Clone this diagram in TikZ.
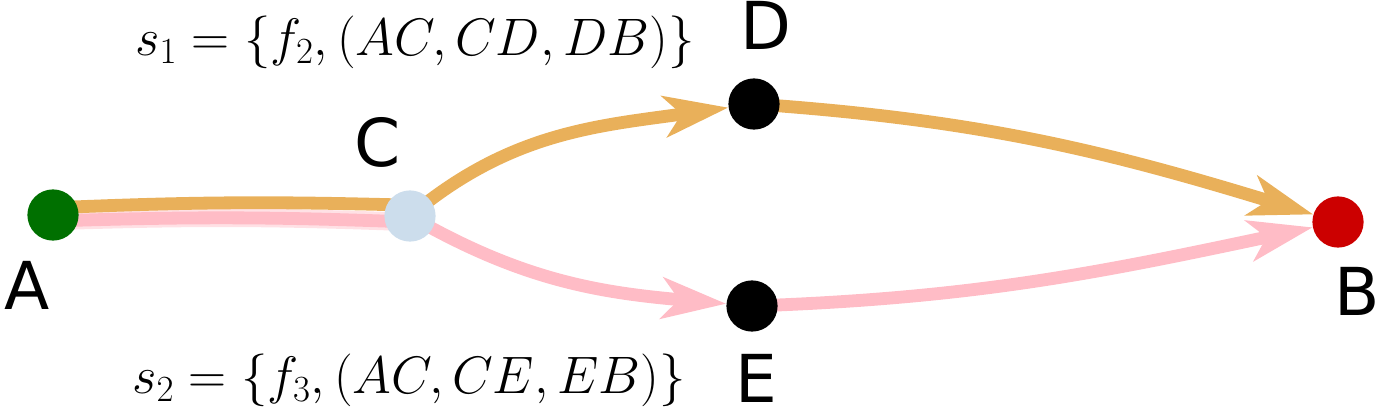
\RequirePackage{fix-cm}
\documentclass[tikz,border=0pt]{standalone}
\usepackage{fontspec}
\newfontfamily\lblfont{DejaVu Sans}
\usepackage{tikz}
\usetikzlibrary{arrows.meta,backgrounds}

\definecolor{routeorange}{RGB}{233,176,90}
\definecolor{routepink}{RGB}{255,188,198}
\definecolor{srcgreen}{RGB}{0,112,0}
\definecolor{dstred}{RGB}{204,0,0}
\definecolor{hopblue}{RGB}{204,221,236}

\begin{document}
\begin{tikzpicture}[
  x=0.025cm, y=0.025cm,
  every node/.style={inner sep=0pt},
  dot/.style={circle, minimum size=1.28cm},
  letter/.style={font=\lblfont\fontsize{47}{52}\selectfont},
  formula/.style={font=\fontsize{37.5}{44}\selectfont},
  route/.style={line width=0.32cm},
  hop/.style={route, -{Stealth[length=1.6cm, width=1.02cm, inset=0.42cm]}},
  halo/.style={line width=0.46cm, routepink!45}
]
\useasboundingbox (0,0) rectangle (1379,409);

% routers
\node[dot, fill=srcgreen] (A) at (53,194) {};
\node[dot, fill=hopblue] (C) at (410,193) {};
\node[dot, fill=black] (D) at (754,305) {};
\node[dot, fill=black] (E) at (752,103) {};
\node[dot, fill=dstred] (B) at (1338,187) {};

% names
\node[letter] (labA) at (27,124) {A};
\node[letter] (labB) at (1357,118) {B};
\node[letter] (labC) at (378,267) {C};
\node[letter] (labD) at (766,384) {D};
\node[letter] (labE) at (756,31) {E};

% flows
\node[formula] (flow1) at (415,367) {$s_1=\{f_2,(AC,CD,DB)\}$};
\node[formula] (flow2) at (409,29) {$s_2=\{f_3,(AC,CE,EB)\}$};

\begin{scope}[on background layer]
\draw[halo] ([yshift=-0.15cm]A.center) to[bend left=2] ([yshift=-0.15cm]C.center);
\draw[route, routepink] ([yshift=-0.15cm]A.center) to[bend left=2] ([yshift=-0.15cm]C.center);
\draw[route, routeorange] ([yshift=0.18cm]A.center) to[bend left=2] ([yshift=0.27cm]C.center);
\draw[hop, routeorange] (C.center) to[out=40, in=188] (D);
\draw[hop, routepink] (C.center) to[out=-30, in=175] (E);
\draw[hop, routeorange] (D.center) to[out=-4, in=163] (B);
\draw[hop, routepink] (E.center) to[out=2, in=192] (B);
\end{scope}
\end{tikzpicture}
\end{document}
